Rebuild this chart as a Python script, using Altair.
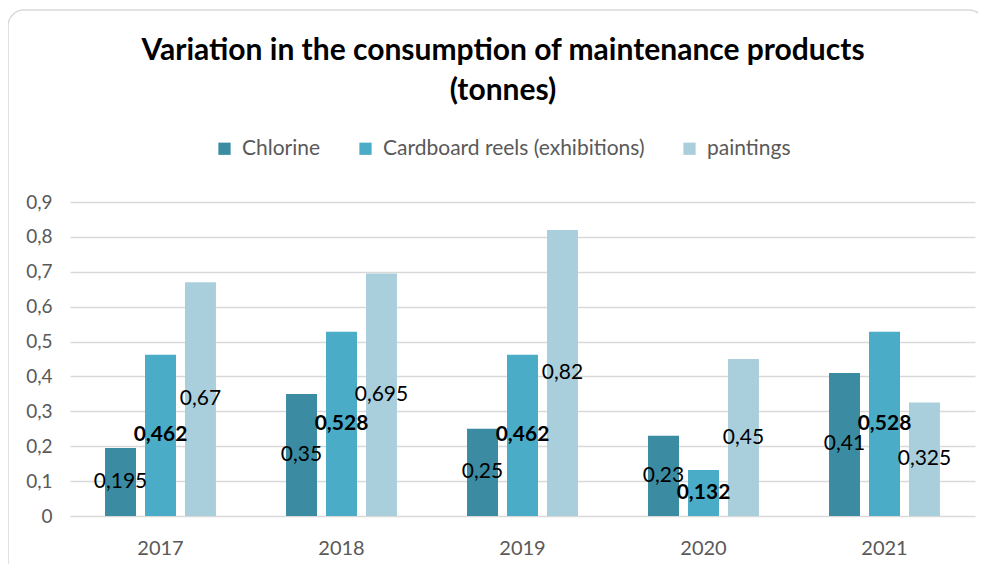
import altair as alt
import pandas as pd

years = ["2017", "2018", "2019", "2020", "2021"]
series_names = ["Chlorine", "Cardboard reels (exhibitions)", "paintings"]
chlorine = [0.195, 0.35, 0.25, 0.23, 0.41]
cardboard = [0.462, 0.528, 0.462, 0.132, 0.528]
paintings = [0.67, 0.695, 0.82, 0.45, 0.325]
colors = ["#3B8BA2", "#4AACC6", "#AACFDC"]
title_lines = ["Variation in the consumption of maintenance products", "(tonnes)"]
y_ticks = [0, 0.1, 0.2, 0.3, 0.4, 0.5, 0.6, 0.7, 0.8, 0.9]

rows = []
for name, vals in zip(series_names, [chlorine, cardboard, paintings]):
    for y, v in zip(years, vals):
        rows.append({"year": y, "series": name, "value": v})
df = pd.DataFrame(rows)

FONT = "Lato"
W, H = 905, 314

x_axis = alt.Axis(labelAngle=0, domain=False, ticks=False, grid=False, labelPadding=22,
                  labelFontSize=20, labelColor="#595959", labelFont=FONT)
y_axis = alt.Axis(values=y_ticks, labelOverlap=False,
                  labelExpr="datum.value == 0 ? '0' : replace(format(datum.value, '.1f'), '.', ',')",
                  domain=False, ticks=False, labelPadding=18,
                  labelFontSize=19, labelColor="#595959", labelFont=FONT,
                  gridColor="#D9D9D9", gridWidth=1.6)
x_scale = alt.Scale(paddingInner=0.387, paddingOuter=0.1935)
y_scale = alt.Scale(domain=[0, 0.9], nice=False)

xo_enc = alt.XOffset("series:N", sort=series_names,
                     scale=alt.Scale(domain=series_names, paddingInner=0.225, paddingOuter=0))

base = alt.Chart(df)

bars = base.mark_bar().encode(
    x=alt.X("year:N", sort=years, title=None, scale=x_scale, axis=x_axis),
    xOffset=xo_enc,
    y=alt.Y("value:Q", title=None, scale=y_scale, axis=y_axis),
    color=alt.Color("series:N", sort=series_names,
                    scale=alt.Scale(domain=series_names, range=colors),
                    legend=alt.Legend(title=None, orient="none", direction="horizontal",
                                      legendX=144, legendY=-64,
                                      symbolType="square", symbolSize=150, symbolStrokeWidth=0,
                                      labelFontSize=21, labelColor="#595959", labelFont=FONT,
                                      labelLimit=0, columnPadding=34, labelOffset=7)),
)

labels_base = base.transform_calculate(
    half="datum.value / 2",
    label="replace(toString(datum.value), '.', ',')",
)

labels_normal = labels_base.transform_filter(
    "datum.series != 'Cardboard reels (exhibitions)'"
).mark_text(fontSize=21, font=FONT, color="black").encode(
    x=alt.X("year:N", sort=years, title=None, scale=x_scale, axis=x_axis),
    xOffset=xo_enc,
    y=alt.Y("half:Q", title=None, scale=y_scale, axis=y_axis),
    text="label:N",
)

labels_bold = labels_base.transform_filter(
    "datum.series == 'Cardboard reels (exhibitions)'"
).mark_text(fontSize=21, font=FONT, color="black", fontWeight="bold").encode(
    x=alt.X("year:N", sort=years, title=None, scale=x_scale, axis=x_axis),
    xOffset=xo_enc,
    y=alt.Y("half:Q", title=None, scale=y_scale, axis=y_axis),
    text="label:N",
)

one = pd.DataFrame({"a": [0]})

frame = alt.Chart(one).mark_rect(
    fill="transparent", stroke="#D9D9D9", strokeWidth=1.5, cornerRadius=16
).encode(
    x=alt.value(-62), x2=alt.value(915), y=alt.value(-192), y2=alt.value(380)
)

title1 = alt.Chart(pd.DataFrame({"t": [title_lines[0]]})).mark_text(
    font=FONT, fontSize=30, fontWeight="bold", color="black", align="center", baseline="middle"
).encode(x=alt.value(433), y=alt.value(-151), text="t:N")

title2 = alt.Chart(pd.DataFrame({"t": [title_lines[1]]})).mark_text(
    font=FONT, fontSize=30, fontWeight="bold", color="black", align="center", baseline="middle"
).encode(x=alt.value(433), y=alt.value(-111), text="t:N")

chart = alt.layer(bars, labels_normal, labels_bold, frame, title1, title2).properties(
    width=W, height=H,
    background="white",
    autosize=alt.AutoSizeParams(type="none"),
    padding={"left": 62, "right": 3, "top": 194, "bottom": 48},
).configure_view(stroke="transparent", strokeWidth=0)

chart.save("out.html", embed_options={"renderer": "svg", "actions": False})
